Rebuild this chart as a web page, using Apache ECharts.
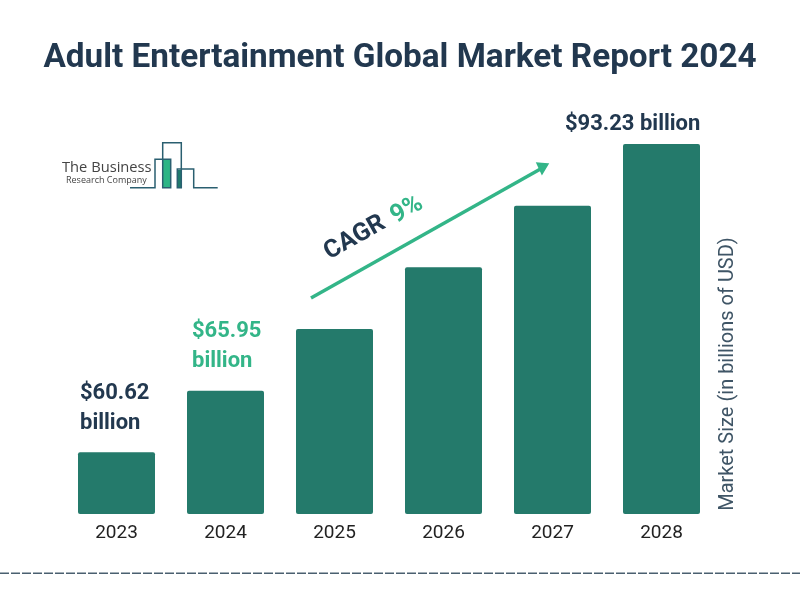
<!DOCTYPE html>
<html>
<head>
<meta charset="utf-8">
<script src="https://cdn.jsdelivr.net/npm/echarts@6/dist/echarts.min.js"></script>
<style>
html, body { margin: 0; padding: 0; background: #fff; }
#main { width: 800px; height: 600px; }
</style>
</head>
<body>
<div id="main"></div>
<script>
var years = ['2023', '2024', '2025', '2026', '2027', '2028'];
// the bars in the picture are a staircase, not to scale with the dollar figures
var barLevels = [1, 2, 3, 4, 5, 6];
var valueLabels = ['$60.62\nbillion', '$65.95\nbillion', '', '', '', '$93.23 billion'];

var navy = '#22384f';
var green = '#33b588';
var teal = '#247a6b';
var logoLine = '#2a5f70';

var chart = echarts.init(document.getElementById('main'));

function labelFor(i) {
    if (i == 0) return { position: [2, -74], color: navy };
    if (i == 1) return { position: [5, -74], color: green };
    if (i == 5) return { position: [-58, -35], color: navy };
    return { show: false };
}

var option = {
    backgroundColor: '#fff',
    animation: false,
    textStyle: { fontFamily: 'Roboto' },
    title: {
        text: 'Adult Entertainment Global Market Report 2024',
        left: 'center',
        top: 37,
        textStyle: { fontFamily: 'Roboto', fontSize: 33.3, fontWeight: 'bold', color: navy }
    },
    grid: { left: 62, top: 144, width: 654, height: 370 },
    xAxis: {
        type: 'category',
        data: years,
        axisLine: { show: false },
        axisTick: { show: false },
        axisLabel: { fontFamily: 'Roboto', fontSize: 19, color: '#222', margin: 10 }
    },
    yAxis: { type: 'value', min: 0, max: 6, show: false },
    series: [{
        type: 'bar',
        barWidth: 77,
        itemStyle: { color: teal, borderRadius: 2 },
        label: {
            show: true,
            align: 'left',
            verticalAlign: 'top',
            fontFamily: 'Roboto',
            fontSize: 22,
            fontWeight: 'bold',
            lineHeight: 30,
            formatter: function (p) { return valueLabels[p.dataIndex]; }
        },
        data: barLevels.map(function (v, i) {
            return { value: v, label: labelFor(i) };
        })
    }],
    graphic: [
        // growth arrow
        { type: 'line', shape: { x1: 311, y1: 298, x2: 544, y2: 167 }, style: { stroke: green, lineWidth: 3.5 } },
        { type: 'polygon', shape: { points: [[548, 164], [537, 163], [542, 174]] }, style: { fill: green, stroke: green, lineWidth: 1.5 } },
        { type: 'text', x: 355, y: 238, rotation: 29.4 * Math.PI / 180, style: { text: 'CAGR', fontFamily: 'Roboto', fontSize: 25, fontWeight: 'bold', fill: navy, align: 'center', verticalAlign: 'middle' } },
        { type: 'text', x: 407, y: 210, rotation: 29.4 * Math.PI / 180, style: { text: '9%', fontFamily: 'Roboto', fontSize: 25, fontWeight: 'bold', fill: green, align: 'center', verticalAlign: 'middle' } },
        // y axis caption
        { type: 'text', x: 728, y: 374, rotation: Math.PI / 2, style: { text: 'Market Size (in billions of USD)', fontFamily: 'Roboto', fontSize: 20, fill: '#3f5566', align: 'center', verticalAlign: 'middle' } },
        // logo
        { type: 'rect', shape: { x: 163, y: 160, width: 8, height: 28 }, style: { fill: '#2bb585' } },
        { type: 'rect', shape: { x: 177, y: 170, width: 4, height: 18 }, style: { fill: '#1f7a6c' } },
        { type: 'polyline', shape: { points: [[130, 187.7], [155, 187.7], [155, 159.3], [170.7, 159.3], [170.7, 187.7], [162.7, 187.7], [162.7, 142.7], [181.3, 142.7], [181.3, 187.7], [177.3, 187.7], [177.3, 169], [193.7, 169], [193.7, 187.7], [217.7, 187.7]] }, style: { stroke: logoLine, lineWidth: 1.5, fill: null } },
        { type: 'text', x: 62, y: 168, style: { text: 'The Business', fontFamily: 'Open Sans', fontSize: 14.7, fill: '#444', verticalAlign: 'middle' } },
        { type: 'text', x: 66, y: 180, style: { text: 'Research Company', fontFamily: 'Open Sans', fontSize: 9, fill: '#444', verticalAlign: 'middle' } },
        // footer rule
        { type: 'line', shape: { x1: 0, y1: 573.3, x2: 800, y2: 573.3 }, style: { stroke: '#4a6070', lineWidth: 1.5, lineDash: [9, 2] } }
    ]
};

chart.setOption(option);
</script>
</body>
</html>
